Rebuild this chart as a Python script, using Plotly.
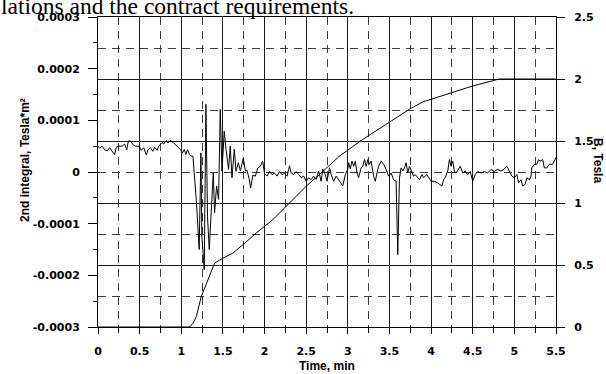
import plotly.graph_objects as go

# Second field integral (Tesla*m^2) against time (min)
t_int = [
    0.00, 0.02, 0.05, 0.08, 0.11, 0.14, 0.17, 0.20, 0.22, 0.25, 0.29, 0.32, 0.345, 0.365,
    0.39, 0.42, 0.45, 0.49, 0.52, 0.55, 0.58, 0.60, 0.63, 0.66, 0.68, 0.71, 0.73, 0.75,
    0.77, 0.79, 0.82, 0.84, 0.87, 0.91, 0.93, 0.96, 0.99, 1.015, 1.035, 1.055, 1.075, 1.10,
    1.115, 1.14, 1.167, 1.183, 1.215, 1.236, 1.247, 1.276, 1.296, 1.315, 1.336, 1.356,
    1.384, 1.40, 1.424, 1.448, 1.468, 1.489, 1.516, 1.537, 1.568, 1.588, 1.609, 1.637,
    1.657, 1.685, 1.71, 1.745, 1.77, 1.79, 1.817, 1.833, 1.86, 1.89, 1.92, 1.95, 1.977,
    2.00, 2.03, 2.06, 2.09, 2.12, 2.15, 2.18, 2.21, 2.24, 2.27, 2.30, 2.32, 2.35, 2.38,
    2.41, 2.44, 2.47, 2.50, 2.53, 2.56, 2.59, 2.62, 2.65, 2.68, 2.70, 2.73, 2.75, 2.78,
    2.80, 2.83, 2.86, 2.89, 2.92, 2.94, 2.97, 3.00, 3.01, 3.03, 3.05, 3.07, 3.09, 3.11,
    3.13, 3.16, 3.18, 3.20, 3.22, 3.24, 3.26, 3.28, 3.31, 3.33, 3.35, 3.37, 3.40, 3.43,
    3.46, 3.49, 3.52, 3.55, 3.58, 3.60, 3.62, 3.64, 3.66, 3.68, 3.70, 3.72, 3.74, 3.76,
    3.79, 3.81, 3.84, 3.86, 3.89, 3.91, 3.95, 4.00, 4.04, 4.08, 4.13, 4.15, 4.17, 4.20,
    4.22, 4.24, 4.26, 4.28, 4.30, 4.33, 4.35, 4.38, 4.41, 4.44, 4.47, 4.50, 4.53, 4.56,
    4.60, 4.64, 4.68, 4.72, 4.76, 4.80, 4.84, 4.88, 4.91, 4.94, 4.97, 5.00, 5.03, 5.05,
    5.08, 5.10, 5.13, 5.15, 5.18, 5.20, 5.21, 5.24, 5.27, 5.29, 5.31, 5.34, 5.36, 5.39,
    5.42, 5.46, 5.50,
]
v_int = [
    5.0e-5, 4.6e-5, 5.0e-5, 4.3e-5, 4.1e-5, 4.7e-5, 4.0e-5, 3.4e-5, 4.8e-5, 5.0e-5, 5.0e-5,
    5.4e-5, 4.3e-5, 6.0e-5, 6.0e-5, 5.3e-5, 5.0e-5, 5.0e-5, 4.2e-5, 4.7e-5, 3.3e-5, 4.3e-5,
    4.7e-5, 4.0e-5, 4.8e-5, 4.2e-5, 5.0e-5, 5.3e-5, 5.7e-5, 5.4e-5, 6.1e-5, 5.6e-5, 6.1e-5,
    5.6e-5, 5.3e-5, 4.8e-5, 4.35e-5, 3.7e-5, 4.35e-5, 3.4e-5, 4.3e-5, 3.4e-5,
    3.1e-5, 3.06e-5, -2.75e-5, -6.0e-5, -1.5e-4, 3.7e-5, -1.24e-4, -1.89e-4, 1.31e-4,
    -8.6e-5, -1.5e-4, -9.2e-5, -2.0e-6, -7.9e-5, -2.7e-5, -5.3e-5, 1.21e-4, 1.5e-6,
    7.9e-5, 4.4e-5, 5.0e-6, 5.0e-5, -1.1e-5, 4.4e-5, 1.5e-6, 1.8e-5, 2.0e-6, 2.7e-5,
    2.0e-6, 3.0e-6, -1.45e-5, -3.1e-5, -6.0e-6, -8.0e-6, 8.0e-6, 1.1e-5, 2.1e-5,
    -3.0e-6, -8.0e-6, 1.5e-6, -5.0e-6, -2.0e-6, -8.0e-6, 1.0e-6, -5.0e-6, -3.0e-6, -8.0e-6,
    1.2e-5, -2.0e-6, -5.0e-6, 1.0e-6, -5.0e-6, -1.1e-5, -8.0e-6, -1.8e-5, -1.1e-5,
    -1.45e-5, -8.0e-6, -1.45e-5, 2.0e-6, -1.8e-5, 6.0e-6, -5.0e-6, -1.8e-5, 8.0e-6,
    -5.0e-6, -1.8e-5, -8.0e-6, -1.45e-5, -2.1e-5, -2.7e-5, -5.0e-6, 6.0e-6, 1.8e-5,
    6.0e-6, 2.1e-5, 1.1e-5, 2.1e-5, -2.0e-6, -1.1e-5, 8.0e-6, 1.1e-5, 2.4e-5, 1.1e-5,
    2.4e-5, 1.5e-5, 2.1e-5, -8.0e-6, -1.8e-5, -2.0e-6, 1.1e-5, 2.1e-5, 1.5e-5, 5.0e-6,
    -8.0e-6, -2.0e-6, -1.5e-5, -1.8e-5, -1.6e-4, -1.2e-5, 8.0e-6, 2.0e-6, 8.0e-6, 1.8e-5,
    -2.0e-6, 1.1e-5, 2.0e-6, -8.0e-6, -5.0e-6, -1.1e-5, -1.5e-5, -5.0e-6, -1.1e-5,
    -5.0e-6, -1.8e-5, -1.8e-5, -2.1e-5, -2.7e-5, -1.5e-5, -1.1e-5, 2.0e-6, 2.4e-5,
    1.1e-5, 2.1e-5, 2.0e-6, -2.0e-6, 5.0e-6, 1.1e-5, -2.0e-6, 2.0e-6, -5.0e-6, 1.0e-6,
    -1.8e-5, -5.0e-6, 1.0e-6, -2.0e-6, 1.0e-6, -2.0e-6, 5.0e-6, 1.0e-6, 5.0e-6, 2.0e-6,
    6.0e-6, 1.1e-5, 2.0e-6, -8.0e-6, -1.1e-5, -5.0e-6, -2.1e-5, -1.5e-5, -2.7e-5,
    -2.4e-5, -1.1e-5, -1.5e-5, -8.0e-6, 8.0e-6, 1.5e-5, 1.5e-5, 2.4e-5, 2.1e-5, 2.4e-5,
    8.0e-6, 8.0e-6, 1.5e-5, 1.5e-5, 2.8e-5,
]

# Magnetic field B (Tesla) against time (min)
t_b = [0.0, 1.10, 1.14, 1.18, 1.24, 1.30, 1.35, 1.40, 1.50, 1.62, 1.74, 1.90, 2.10,
       2.30, 2.50, 2.66, 2.90, 3.18, 3.46, 3.74, 3.90, 4.26, 4.50, 4.82, 5.50]
b_val = [0.0, 0.0, 0.03, 0.083, 0.245, 0.35, 0.44, 0.515, 0.555, 0.596, 0.663, 0.758,
         0.866, 1.0, 1.135, 1.23, 1.378, 1.513, 1.634, 1.756, 1.815, 1.891, 1.944,
         2.0, 2.0]

x_ticks = [0, 0.5, 1, 1.5, 2, 2.5, 3, 3.5, 4, 4.5, 5, 5.5]
x_labels = ["0", "0.5", "1", "1.5", "2", "2.5", "3", "3.5", "4", "4.5", "5", "5.5"]
y1_ticks = [-0.0003, -0.0002, -0.0001, 0, 0.0001, 0.0002, 0.0003]
y1_labels = ["-0.0003", "-0.0002", "-0.0001", "0", "0.0001", "0.0002", "0.0003"]
y2_ticks = [0, 0.5, 1, 1.5, 2, 2.5]
y2_labels = ["0", "0.5", "1", "1.5", "2", "2.5"]

W, H = 606, 374
ML, MR, MT, MB = 98, 50, 17, 47
PW, PH = W - ML - MR, H - MT - MB

tick_font = dict(family="DejaVu Sans", size=11, color="black", weight="bold")
title_font = dict(family="Liberation Sans", size=12, color="black", weight="bold")
solid_grid = "#1a1a1a"
dash_grid = "#3a3a3a"


def px_x(p):
    return (p - ML) / PW


def px_y(p):
    return 1 - (p - MT) / PH


fig = go.Figure()
fig.add_trace(go.Scatter(x=t_int, y=v_int, mode="lines", yaxis="y",
                         line=dict(color="black", width=1), showlegend=False))
fig.add_trace(go.Scatter(x=t_b, y=b_val, mode="lines", yaxis="y2",
                         line=dict(color="black", width=1), showlegend=False))

fig.update_layout(
    width=W, height=H,
    margin=dict(l=ML, r=MR, t=MT, b=MB, pad=0),
    paper_bgcolor="white", plot_bgcolor="white",
    xaxis=dict(
        range=[0, 5.5], tickmode="array", tickvals=x_ticks, ticktext=x_labels,
        ticks="outside", ticklen=6, tickcolor="black", tickfont=tick_font,
        ticklabelstandoff=8,
        showline=True, linecolor="black", linewidth=1, mirror=True,
        showgrid=True, gridcolor=solid_grid, gridwidth=1, zeroline=False,
        minor=dict(tickmode="linear", tick0=0, dtick=0.25, ticks="outside", ticklen=5,
                   tickcolor="black", showgrid=True, gridcolor=dash_grid, gridwidth=1,
                   griddash="8px,6px"),
    ),
    yaxis=dict(
        range=[-0.0003, 0.0003], tickmode="array", tickvals=y1_ticks, ticktext=y1_labels,
        ticks="outside", ticklen=9, tickcolor="black", tickfont=tick_font,
        ticklabelstandoff=6,
        showline=True, linecolor="black", linewidth=1,
        showgrid=False, zeroline=False,
        minor=dict(tickmode="linear", tick0=0, dtick=0.00005, ticks="outside",
                   ticklen=4, tickcolor="black", showgrid=False),
    ),
    yaxis2=dict(
        range=[0, 2.5], overlaying="y", side="right", tickmode="array",
        tickvals=y2_ticks, ticktext=y2_labels,
        ticks="outside", ticklen=8, tickcolor="black", tickfont=tick_font,
        ticklabelstandoff=7,
        showline=True, linecolor="black", linewidth=1,
        showgrid=True, gridcolor=solid_grid, gridwidth=1, zeroline=False,
        minor=dict(tickmode="linear", tick0=0, dtick=0.25, ticks="", showgrid=True,
                   gridcolor=dash_grid, gridwidth=1, griddash="8px,6px"),
    ),
    annotations=[
        dict(text="2nd integral, Tesla*m²", textangle=-90, showarrow=False,
             xref="paper", yref="paper", x=px_x(25), y=px_y(160),
             xanchor="center", yanchor="middle", font=title_font),
        dict(text="B, Tesla", textangle=90, showarrow=False,
             xref="paper", yref="paper", x=px_x(598), y=px_y(160),
             xanchor="center", yanchor="middle", font=title_font),
        dict(text="Time, min", showarrow=False,
             xref="paper", yref="paper", x=px_x(327), y=px_y(366),
             xanchor="center", yanchor="middle", font=title_font),
        dict(text="lations and the contract requirements.", showarrow=False,
             xref="paper", yref="paper", x=px_x(-1), y=px_y(6),
             xanchor="left", yanchor="middle",
             font=dict(family="Liberation Serif", size=23.5, color="black")),
    ],
)

fig.write_html("out.html")
